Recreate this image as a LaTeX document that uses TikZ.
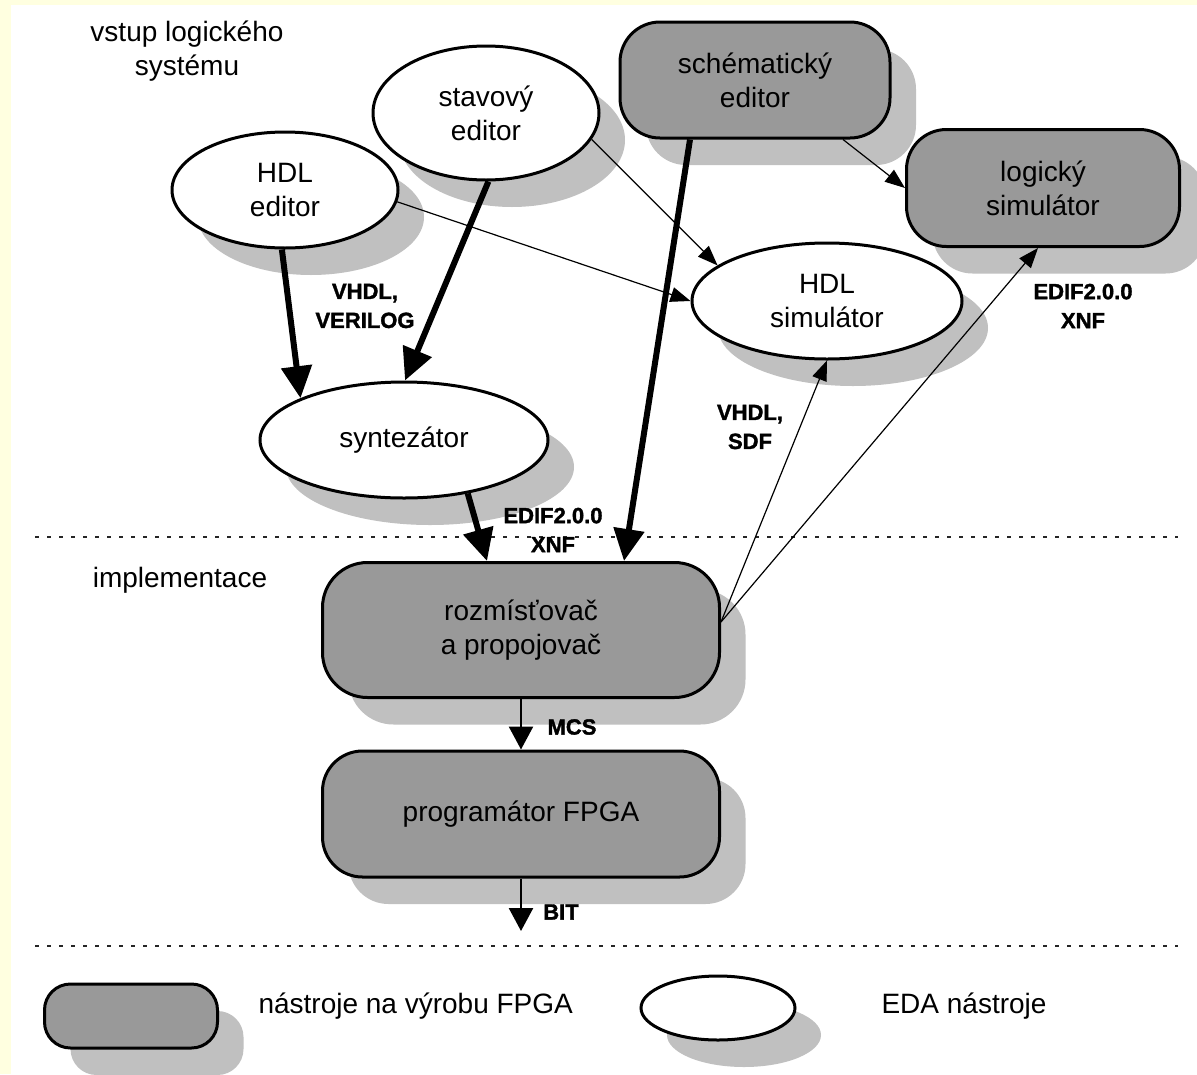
\documentclass[tikz,border=0pt]{standalone}
\usepackage{fontspec}
\setmainfont{Liberation Sans}
\newfontfamily\labelfont[FakeBold=1.6]{Liberation Sans Bold}
\usetikzlibrary{shapes.geometric,arrows.meta,shadows}
\definecolor{boxgray}{HTML}{999999}
\definecolor{shgray}{HTML}{C0C0C0}
\definecolor{pageyellow}{HTML}{FFFFE0}
\begin{document}
\begin{tikzpicture}[x=1pt,y=-1pt,
  txt/.style={font=\fontsize{28}{34}\selectfont, align=center, text=black},
  shd/.style={drop shadow={shadow xshift=26pt, shadow yshift=-27pt, opacity=1, fill=shgray}},
  eda/.style={txt, ellipse, draw=black, line width=3pt, fill=white, inner sep=0pt, shd},
  fpga/.style={txt, rectangle, rounded corners=40pt, draw=black, line width=3pt, fill=boxgray, inner sep=0pt, shd},
  fmt/.style={font=\fontsize{22}{29}\selectfont\labelfont, align=center},
  heavy/.style={line width=6pt, -{Triangle[length=32pt,width=30pt]}},
  light/.style={line width=1.2pt, -{Triangle[length=20pt,width=15pt]}},
  medium/.style={line width=2.5pt, -{Triangle[length=23pt,width=24pt]}},
  sep/.style={line width=2pt, dash pattern=on 4pt off 8pt, draw=black!85},
]
% page background with pale margin
\fill[pageyellow] (0,0) rectangle (1197,1074);
\fill[white] (11,5) rectangle (1197,1074);
\useasboundingbox (0,0) rectangle (1197,1074);

% level separators
\draw[sep] (35,537) -- (1178,537);
\draw[sep] (35,946) -- (1178,946);

% section titles
\node[txt] (title1) at (187,51) {vstup logického\\systému};
\node[txt] (title2) at (180,580) {implementace};

% tools
\node[eda, minimum width=226pt, minimum height=116pt] (hdled) at (285,190) {HDL\\editor};
\node[eda, minimum width=226pt, minimum height=134pt] (stav) at (486,113) {stavový\\editor};
\node[fpga, minimum width=270pt, minimum height=116pt] (schem) at (755,80) {schématický\\editor};
\node[fpga, minimum width=273pt, minimum height=117pt] (logic) at (1043,188) {logický\\simulátor};
\node[eda, minimum width=270pt, minimum height=116pt] (hdlsim) at (827,301) {HDL\\simulátor};
\node[eda, minimum width=288pt, minimum height=116pt] (synt) at (404,440) {syntezátor};
\node[fpga, minimum width=397pt, minimum height=135pt, rounded corners=45pt] (rozm) at (521,630) {rozmísťovač\\a propojovač};
\node[fpga, minimum width=397pt, minimum height=126pt] (prog) at (521,814) {programátor FPGA};
\coordinate (progout) at (521,931);

% data flows
\draw[heavy] (hdled.-93) -- (synt.158);
\draw[heavy] (stav.-88) -- (synt.89);
\draw[heavy] ([xshift=-65pt]schem.south) -- ([xshift=103pt]rozm.north);
\draw[heavy] (synt.-40) -- ([xshift=-34pt]rozm.north);
\draw[light] (hdled.-6) -- (hdlsim.180);
\draw[light] (stav.-14) -- (hdlsim.162);
\draw[light] ([xshift=88pt]schem.south) -- (logic.west);
\draw[light] ([yshift=8pt]rozm.east) -- (hdlsim.south);
\draw[light] ([yshift=8pt]rozm.east) -- ([xshift=-5pt]logic.south);
\draw[medium] (rozm.south) -- (prog.north);
\draw[medium] (prog.south) -- (progout);

% format labels
\node[fmt] (f1) at (365,306) {VHDL,\\VERILOG};
\node[fmt] (f2) at (553,530) {EDIF2.0.0\\XNF};
\node[fmt] (f3) at (750,427) {VHDL,\\SDF};
\node[fmt] (f4) at (1083,306) {EDIF2.0.0\\XNF};
\node[fmt] (f5) at (572,727) {MCS};
\node[fmt] (f6) at (561,912) {BIT};

% legend
\node[fpga, minimum width=173pt, minimum height=64pt, rounded corners=26pt] (leg1) at (131,1016) {};
\node[txt, anchor=west] (leg1t) at (255,1006) {nástroje na výrobu FPGA};
\node[eda, minimum width=154pt, minimum height=64pt] (leg2) at (718,1008) {};
\node[txt, anchor=west] (leg2t) at (878,1006) {EDA nástroje};
\end{tikzpicture}
\end{document}
